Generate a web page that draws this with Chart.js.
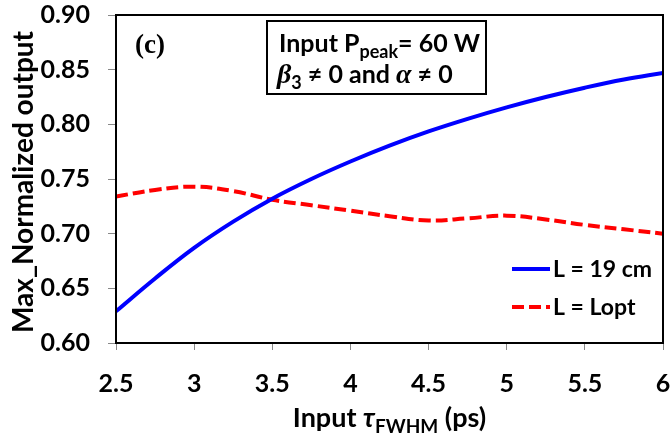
<!DOCTYPE html>
<html>
<head>
<meta charset="utf-8">
<script src="https://cdn.jsdelivr.net/npm/chart.js@4.4.1/dist/chart.umd.min.js"></script>
<style>
html,body{margin:0;padding:0;background:#fff;}
#wrap{width:670px;height:441px;position:relative;}
</style>
</head>
<body>
<div id="wrap"><canvas id="c" width="670" height="441"></canvas></div>
<script>
// Data
const tau = [2.5, 2.75, 3.0, 3.25, 3.5, 3.75, 4.0, 4.25, 4.5, 4.75, 5.0, 5.25, 5.5, 5.75, 6.0];
const L19 = [0.629, 0.659, 0.687, 0.711, 0.732, 0.750, 0.766, 0.7805, 0.7935, 0.805, 0.8155, 0.825, 0.8335, 0.841, 0.847];
const Lopt = [0.734, 0.740, 0.743, 0.739, 0.731, 0.726, 0.721, 0.716, 0.712, 0.714, 0.7165, 0.713, 0.708, 0.704, 0.700];
const seriesNames = ["L = 19 cm", "L = Lopt"];
const xTicks = [2.5, 3, 3.5, 4, 4.5, 5, 5.5, 6];
const yTicks = [0.60, 0.65, 0.70, 0.75, 0.80, 0.85, 0.90];

const FONT = "Lato, 'Open Sans', sans-serif";

const decor = {
  id: 'decor',
  afterDraw(chart) {
    const ctx = chart.ctx;
    const a = chart.chartArea;
    ctx.save();
    // plot border
    ctx.strokeStyle = '#000';
    ctx.lineWidth = 2;
    ctx.strokeRect(a.left, a.top, a.right - a.left, a.bottom - a.top);

    // Y title
    ctx.fillStyle = '#000';
    ctx.save();
    ctx.translate(24, (a.top + a.bottom) / 2 + 3);
    ctx.rotate(-Math.PI / 2);
    ctx.font = "bold 28px " + FONT;
    ctx.textAlign = 'center';
    ctx.textBaseline = 'middle';
    ctx.fillText("Max_Normalized output", 0, 0);
    ctx.restore();

    // X title with subscript
    const parts = [
      {t: "Input ", f: "bold 27px " + FONT, dy: 0},
      {t: "τ", f: "italic bold 27px " + FONT, dy: 0},
      {t: "FWHM", f: "bold 19px " + FONT, dy: 6},
      {t: " (ps)", f: "bold 27px " + FONT, dy: 0}
    ];
    drawParts(ctx, parts, (a.left + a.right) / 2, 427, 'center');

    // (c)
    ctx.font = "bold 27px 'Liberation Serif', serif";
    ctx.textAlign = 'left';
    ctx.textBaseline = 'alphabetic';
    ctx.fillText("(c)", 135, 53);

    // annotation box
    ctx.lineWidth = 2;
    ctx.strokeRect(267, 21, 219, 73);
    drawParts(ctx, [
      {t: "Input P", f: "bold 25px " + FONT, dy: 0},
      {t: "peak", f: "bold 18px " + FONT, dy: 6},
      {t: "= 60 W", f: "bold 25px " + FONT, dy: 0}
    ], 279, 52, 'left');
    drawParts(ctx, [
      {t: "β", f: "italic bold 28px 'Liberation Serif', serif", dy: 0},
      {t: "3", f: "bold 18px " + FONT, dy: 6},
      {t: " ≠ 0 and ", f: "bold 25px " + FONT, dy: 0},
      {t: "α", f: "italic bold 28px 'Liberation Serif', serif", dy: 0},
      {t: " ≠ 0", f: "bold 25px " + FONT, dy: 0}
    ], 277, 83, 'left');

    // legend
    const rows = [269, 307];
    chart.data.datasets.forEach((ds, i) => {
      const y = rows[i];
      ctx.save();
      ctx.strokeStyle = ds.borderColor;
      ctx.lineWidth = ds.borderWidth;
      ctx.setLineDash(ds.borderDash || []);
      ctx.beginPath();
      ctx.moveTo(512, y);
      ctx.lineTo(550, y);
      ctx.stroke();
      ctx.restore();
      ctx.fillStyle = '#000';
      ctx.font = "bold 23px " + FONT;
      ctx.textAlign = 'left';
      ctx.textBaseline = 'middle';
      ctx.fillText(ds.label, 553, y + 1);
    });
    ctx.restore();
  }
};

function drawParts(ctx, parts, x, baseline, align) {
  let total = 0;
  parts.forEach(p => { ctx.font = p.f; p.w = ctx.measureText(p.t).width; total += p.w; });
  let cx = align === 'center' ? x - total / 2 : x;
  ctx.textAlign = 'left';
  ctx.textBaseline = 'alphabetic';
  parts.forEach(p => { ctx.font = p.f; ctx.fillText(p.t, cx, baseline + p.dy); cx += p.w; });
}

function noPad(s) { s.paddingTop = 0; s.paddingBottom = 0; s.paddingLeft = 0; s.paddingRight = 0; }

new Chart(document.getElementById('c'), {
  type: 'line',
  data: {
    datasets: [
      {
        label: seriesNames[0],
        data: tau.map((x, i) => ({x: x, y: L19[i]})),
        borderColor: '#0000FF',
        borderWidth: 4,
        pointRadius: 0,
        tension: 0.4,
        fill: false
      },
      {
        label: seriesNames[1],
        data: tau.map((x, i) => ({x: x, y: Lopt[i]})),
        borderColor: '#FF0000',
        borderWidth: 4,
        borderDash: [12, 5],
        pointRadius: 0,
        tension: 0.4,
        fill: false
      }
    ]
  },
  options: {
    responsive: false,
    animation: false,
    layout: {padding: {top: 15, right: 7, left: 0, bottom: 0}},
    plugins: {legend: {display: false}, tooltip: {enabled: false}},
    scales: {
      x: {
        type: 'linear',
        min: 2.5, max: 6,
        afterBuildTicks(s) { s.ticks = xTicks.map(v => ({value: v})); },
        afterFit(s) { s.height = 98; noPad(s); },
        grid: {drawOnChartArea: false, drawTicks: true, tickLength: 7, color: '#888', lineWidth: 1},
        border: {display: true, color: '#000', width: 2},
        ticks: {
          font: {family: FONT, size: 25, weight: 'bold'},
          color: '#000',
          padding: 19,
          maxRotation: 0,
          autoSkip: false,
          callback: v => String(v)
        }
      },
      y: {
        type: 'linear',
        min: 0.6, max: 0.9,
        afterBuildTicks(s) { s.ticks = yTicks.map(v => ({value: v})); },
        afterFit(s) { s.width = 116; noPad(s); },
        grid: {drawOnChartArea: false, drawTicks: true, tickLength: 8, color: '#888', lineWidth: 1},
        border: {display: true, color: '#000', width: 2},
        ticks: {
          font: {family: FONT, size: 25, weight: 'bold'},
          color: '#000',
          padding: 18,
          autoSkip: false,
          callback: v => Number(v).toFixed(2)
        }
      }
    }
  },
  plugins: [decor]
});
</script>
</body>
</html>
